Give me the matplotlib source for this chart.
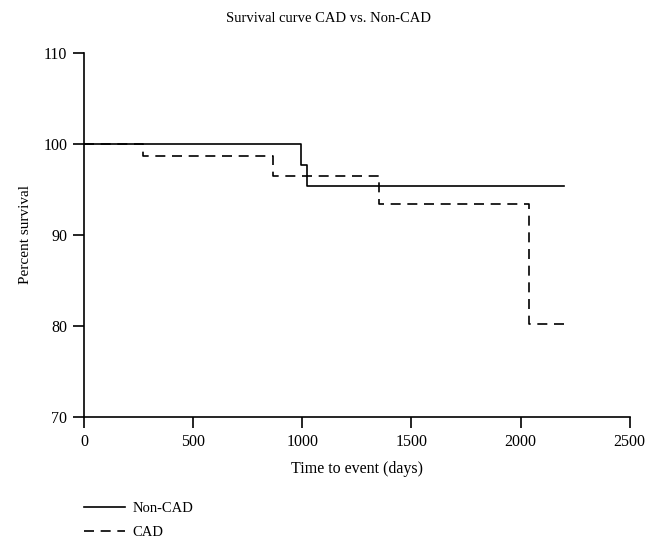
import matplotlib
matplotlib.use("Agg")
import matplotlib.pyplot as plt
from matplotlib.lines import Line2D

plt.rcParams['font.family'] = ['Liberation Serif', 'DejaVu Serif']

# survival data (days, percent)
noncad_days = [0, 992, 1020, 2200]
noncad_surv = [100, 97.7, 95.4, 95.4]
cad_days = [0, 269, 867, 1353, 2039, 2200]
cad_surv = [100, 98.7, 96.5, 93.4, 80.2, 80.2]

x_ticks = [0, 500, 1000, 1500, 2000, 2500]
y_ticks = [70, 80, 90, 100, 110]

fig = plt.figure(figsize=(6.58, 5.47), dpi=100)
ax = fig.add_axes([0.1277, 0.2377, 0.957 - 0.1277, 0.9037 - 0.2377])

ax.step(noncad_days, noncad_surv, where='post', color='black', lw=1.2, label='Non-CAD')
ax.step(cad_days, cad_surv, where='post', color='black', lw=1.2,
        linestyle=(0, (6, 4)), label='CAD')

ax.set_xlim(0, 2500)
ax.set_ylim(70, 110)
ax.set_xticks(x_ticks)
ax.set_yticks(y_ticks)
for s in ['top', 'right']:
    ax.spines[s].set_visible(False)
for s in ['left', 'bottom']:
    ax.spines[s].set_linewidth(1.2)
ax.tick_params(direction='out', length=8, width=1.2, labelsize=11.5, pad=4)

ax.set_xlabel('Time to event (days)', fontsize=11.5, labelpad=8)
ax.set_ylabel('Percent survival', fontsize=11, labelpad=8)
fig.suptitle('Survival curve CAD vs. Non-CAD', fontsize=10.5, y=0.978)

handles = [Line2D([], [], color='black', lw=1.2),
           Line2D([], [], color='black', lw=1.2, linestyle=(0, (6, 4)))]
fig.legend(handles, ['Non-CAD', 'CAD'], loc='upper left',
           bbox_to_anchor=(0.1277, 0.083), frameon=False, fontsize=10.5,
           handlelength=2.8, handletextpad=0.5, labelspacing=0.75,
           borderpad=0, borderaxespad=0)

fig.savefig('out.png', dpi=100)
